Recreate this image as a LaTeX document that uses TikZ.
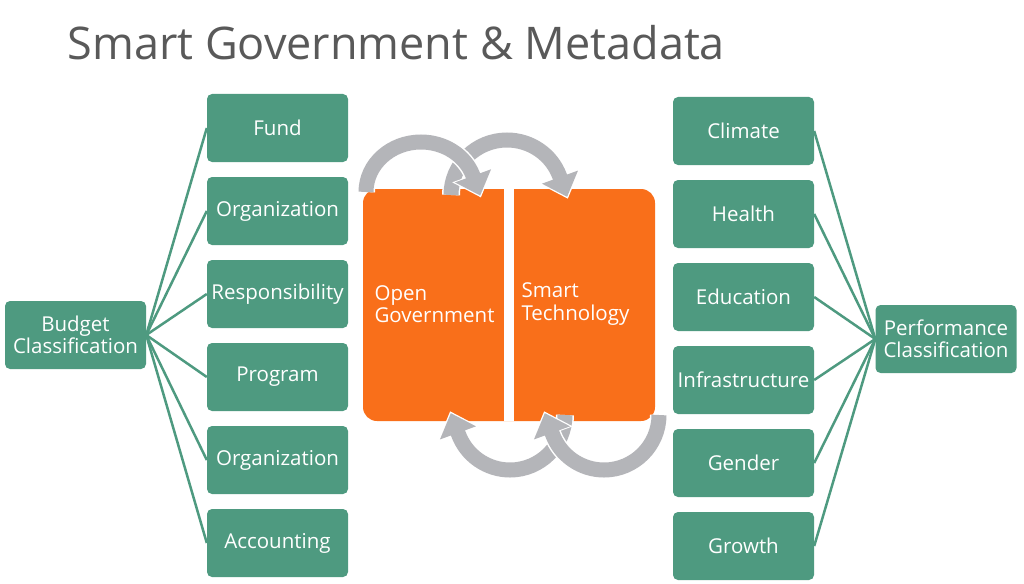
\documentclass[tikz,border=0pt]{standalone}
\usepackage{fontspec}
\setmainfont{Open Sans}
\usetikzlibrary{arrows.meta}
\definecolor{boxgreen}{HTML}{4E9A80}
\definecolor{boxorange}{HTML}{F96F1A}
\definecolor{arrowgray}{HTML}{B4B5B9}
\definecolor{titlegray}{HTML}{595959}
\tikzset{
  gbox/.style={fill=boxgreen,text=white,rounded corners=5pt,minimum width=141pt,
               minimum height=68pt,inner sep=1pt,align=center,
               font=\fontsize{20.5}{22.5}\selectfont},
  glink/.style={draw=boxgreen,line width=2.5pt},
  otext/.style={anchor=west,align=left,text=white,font=\fontsize{20.5}{22.5}\selectfont},
  cyc/.style={draw=arrowgray,line width=15pt,-{Triangle[length=21pt,width=37pt]},
              preaction={draw=white,line width=18pt,-{Triangle[length=24pt,width=42pt]},shorten >=-2pt}}
}

\begin{document}
\begin{tikzpicture}[x=1pt,y=1pt]
  \useasboundingbox (0,0) rectangle (1024,-583);
  \node (title) at (64,-43) [anchor=west,text=titlegray,font=\fontsize{45}{52}\selectfont]
        {Smart Government \& Metadata};
  \node[gbox]   (budget)    at (75.5,-335) {Budget\\Classification};
  \node[gbox]   (fund)      at (277.5,-128) {Fund};
  \node[gbox]   (org)       at (277.5,-211) {Organization};
  \node[gbox]   (resp)      at (277.5,-294) {Responsibility};
  \node[gbox]   (prog)      at (277.5,-377) {Program};
  \node[gbox]   (orgb)      at (277.5,-460) {Organization};
  \node[gbox]   (acct)      at (277.5,-543) {Accounting};
  \node[gbox]   (perf)      at (946,-339) {Performance\\Classification};
  \node[gbox]   (climate)   at (743.5,-131) {Climate};
  \node[gbox]   (health)    at (743.5,-214) {Health};
  \node[gbox]   (edu)       at (743.5,-297) {Education};
  \node[gbox]   (infra)     at (743.5,-380) {Infrastructure};
  \node[gbox]   (gender)    at (743.5,-463) {Gender};
  \node[gbox]   (growth)    at (743.5,-546) {Growth};
  \foreach \b in {fund,org,resp,prog,orgb,acct}
     \draw[glink] (budget.east) -- (\b.west);
  \foreach \b in {climate,health,edu,infra,gender,growth}
     \draw[glink] (\b.east) -- (perf.west);
  % the split block in the middle
  \node[fill=boxorange,rounded corners=14pt,minimum width=292pt,minimum height=232pt,inner sep=0pt]
        (core) at (509,-305) {};
  \fill[white] ([xshift=-5pt]core.north) rectangle ([xshift=5pt]core.south);
  \node[otext]  (open)      at (371,-304) {Open\\Government};
  \node[otext]  (smart)     at (518,-304) {Smart\\Technology};
  \draw[cyc] (451,-195) arc[start angle=180,end angle=20,x radius=56,y radius=55] -- ++(-70:22);
  \draw[cyc] (366,-192) arc[start angle=180,end angle=20,x radius=55,y radius=50] -- ++(-70:22);
  \draw[cyc] (565,-415) arc[start angle=0,end angle=-160,radius=55] -- ++(110:22);
  \draw[cyc] (659,-415) arc[start angle=0,end angle=-160,radius=55] -- ++(110:22);
\end{tikzpicture}
\end{document}
